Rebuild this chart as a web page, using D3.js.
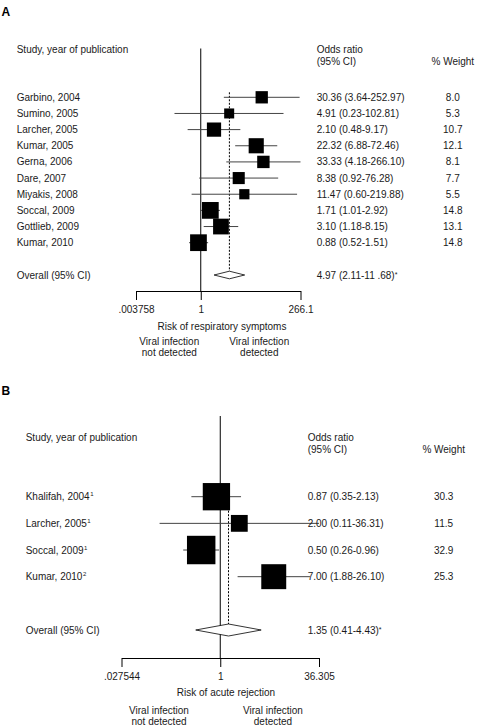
<!DOCTYPE html>
<html>
<head>
<meta charset="utf-8">
<script src="https://cdn.jsdelivr.net/npm/d3@7"></script>
<style>
  html, body { margin: 0; padding: 0; background: #fff; }
  svg { display: block; }
  text { font-family: "Liberation Sans", Arial, Helvetica, sans-serif; fill: #1a1a1a; }
</style>
</head>
<body>
<script>
// ---------------- Panel A data ----------------
const studiesA = ["Garbino, 2004", "Sumino, 2005", "Larcher, 2005", "Kumar, 2005", "Gerna, 2006",
  "Dare, 2007", "Miyakis, 2008", "Soccal, 2009", "Gottlieb, 2009", "Kumar, 2010"];
const orA = [30.36, 4.91, 2.10, 22.32, 33.33, 8.38, 11.47, 1.71, 3.10, 0.88];
const loA = [3.64, 0.23, 0.48, 6.88, 4.18, 0.92, 0.60, 1.01, 1.18, 0.52];
const hiA = [252.97, 102.81, 9.17, 72.46, 266.10, 76.28, 219.88, 2.92, 8.15, 1.51];
const weightA = [8.0, 5.3, 10.7, 12.1, 8.1, 7.7, 5.5, 14.8, 13.1, 14.8];
const ciTextA = ["30.36 (3.64-252.97)", "4.91 (0.23-102.81)", "2.10 (0.48-9.17)", "22.32 (6.88-72.46)",
  "33.33 (4.18-266.10)", "8.38 (0.92-76.28)", "11.47 (0.60-219.88)", "1.71 (1.01-2.92)",
  "3.10 (1.18-8.15)", "0.88 (0.52-1.51)"];
const overallA = [4.97, 2.11, 11.68];
const overallTextA = "4.97 (2.11-11 .68)";
const tickValsA = [0.003758, 1, 266.1];
const tickLabelsA = [".003758", "1", "266.1"];

// ---------------- Panel B data ----------------
const studiesB = ["Khalifah, 2004", "Larcher, 2005", "Soccal, 2009", "Kumar, 2010"];
const supB = ["1", "1", "1", "2"];
const orB = [0.87, 2.00, 0.50, 7.00];
const loB = [0.35, 0.11, 0.26, 1.88];
const hiB = [2.13, 36.31, 0.96, 26.10];
const weightB = [30.3, 11.5, 32.9, 25.3];
const ciTextB = ["0.87 (0.35-2.13)", "2.00 (0.11-36.31)", "0.50 (0.26-0.96)", "7.00 (1.88-26.10)"];
const overallB = [1.35, 0.41, 4.43];
const overallTextB = "1.35 (0.41-4.43)";
const tickValsB = [0.027544, 1, 36.305];
const tickLabelsB = [".027544", "1", "36.305"];

const svg = d3.select("body").append("svg").attr("width", 480).attr("height", 727);

function panel(cfg) {
  const g = svg.append("g");
  const x = d3.scaleLog().domain(cfg.xDomain).range(cfg.xRange);
  const xAxisScale = d3.scaleLog().domain(cfg.axisDomain).range(cfg.axisRange);
  const y = d3.scaleLinear().domain([0, cfg.overallIndex]).range(cfg.yRange);
  const size = d3.scaleSqrt().domain([0, 100]).range([0, cfg.boxK]);
  const n = cfg.studies.length;
  const idx = d3.range(n);

  // Panel letter
  g.append("text").attr("x", cfg.letterX).attr("y", cfg.letterY)
    .attr("font-size", 12).attr("font-weight", "bold").style("fill", "#000").text(cfg.letter);

  // Headers
  g.append("text").attr("x", cfg.labelX).attr("y", cfg.headY1).attr("dy", "0.35em")
    .attr("font-size", 10).text("Study, year of publication");
  g.append("text").attr("x", cfg.valX).attr("y", cfg.headY1).attr("dy", "0.35em")
    .attr("font-size", 10).text("Odds ratio");
  g.append("text").attr("x", cfg.valX).attr("y", cfg.headY2).attr("dy", "0.35em")
    .attr("font-size", 10).text("(95% CI)");
  g.append("text").attr("x", cfg.wX).attr("y", cfg.headY2).attr("dy", "0.35em")
    .attr("text-anchor", "middle").attr("font-size", 10).text("% Weight");

  // Reference line at 1
  g.append("line").attr("x1", x(1)).attr("x2", x(1))
    .attr("y1", cfg.refTop).attr("y2", cfg.axisY)
    .attr("stroke", "#000").attr("stroke-width", 1);

  // Dashed overall line
  g.append("line").attr("x1", x(cfg.overall[0])).attr("x2", x(cfg.overall[0]))
    .attr("y1", y(0) - cfg.dashTopOff).attr("y2", y(cfg.overallIndex) - cfg.diamondH)
    .attr("stroke", "#000").attr("stroke-width", 1).attr("stroke-dasharray", "2,1.5");

  // CI lines
  g.selectAll(".ci").data(idx).join("line")
    .attr("x1", i => x(cfg.lo[i])).attr("x2", i => x(cfg.hi[i]))
    .attr("y1", i => y(i)).attr("y2", i => y(i))
    .attr("stroke", "#444").attr("stroke-width", 1);

  // Boxes
  g.selectAll(".box").data(idx).join("rect")
    .attr("x", i => x(cfg.or[i]) - size(cfg.w[i]) / 2)
    .attr("y", i => y(i) - size(cfg.w[i]) / 2)
    .attr("width", i => size(cfg.w[i]))
    .attr("height", i => size(cfg.w[i]))
    .attr("fill", "#000");

  // Overall diamond
  const yo = y(cfg.overallIndex);
  const [oe, ol, oh] = cfg.overall;
  g.append("path")
    .attr("d", `M${x(ol)},${yo} L${x(oe)},${yo - cfg.diamondH} L${x(oh)},${yo} L${x(oe)},${yo + cfg.diamondH} Z`)
    .attr("fill", "#fff").attr("stroke", "#000").attr("stroke-width", 0.8);

  // Study labels
  const lab = g.selectAll(".lab").data(idx).join("text")
    .attr("x", cfg.labelX).attr("y", i => y(i)).attr("dy", "0.35em").attr("font-size", 10);
  lab.append("tspan").text(i => cfg.studies[i]);
  if (cfg.sup) {
    lab.append("tspan").attr("font-size", 6).attr("dy", -4).attr("dx", 0.5).text(i => cfg.sup[i]);
  }
  g.append("text").attr("x", cfg.labelX).attr("y", yo).attr("dy", "0.35em")
    .attr("font-size", 10).text("Overall (95% CI)");

  // Values
  g.selectAll(".val").data(idx).join("text")
    .attr("x", cfg.valX).attr("y", i => y(i)).attr("dy", "0.35em").attr("font-size", 10)
    .text(i => cfg.ciText[i]);
  const ov = g.append("text").attr("x", cfg.valX).attr("y", yo).attr("dy", "0.35em").attr("font-size", 10);
  ov.append("tspan").text(cfg.overallText);
  ov.append("tspan").attr("font-size", 7).attr("dy", -2).text("*");

  g.selectAll(".wt").data(idx).join("text")
    .attr("x", cfg.wX).attr("y", i => y(i)).attr("dy", "0.35em").attr("text-anchor", "middle")
    .attr("font-size", 10).text(i => cfg.w[i].toFixed(1));

  // Axis
  const axis = d3.axisBottom(xAxisScale).tickValues(cfg.tickVals)
    .tickFormat((d, i) => cfg.tickLabels[i]).tickSize(9).tickSizeOuter(0).tickPadding(6);
  const ag = g.append("g").attr("transform", `translate(0,${cfg.axisY})`).call(axis);
  ag.attr("font-family", null).attr("font-size", null);
  ag.selectAll("text").attr("font-size", 10).style("fill", "#1a1a1a");
  ag.selectAll("path, line").attr("stroke", "#000");

  // Axis title and directions
  g.append("text").attr("x", cfg.titleX).attr("y", cfg.titleY).attr("dy", "0.35em")
    .attr("text-anchor", "middle").attr("font-size", 10).text(cfg.title);
  const dirs = [[cfg.leftX, "Viral infection", "not detected"], [cfg.rightX, "Viral infection", "detected"]];
  dirs.forEach(([cx, l1, l2]) => {
    g.append("text").attr("x", cx).attr("y", cfg.dirY1).attr("dy", "0.35em")
      .attr("text-anchor", "middle").attr("font-size", 10).text(l1);
    g.append("text").attr("x", cx).attr("y", cfg.dirY2).attr("dy", "0.35em")
      .attr("text-anchor", "middle").attr("font-size", 10).text(l2);
  });
}

panel({
  letter: "A", letterX: 1.5, letterY: 16,
  studies: studiesA, or: orA, lo: loA, hi: hiA, w: weightA, ciText: ciTextA,
  overall: overallA, overallText: overallTextA,
  tickVals: tickValsA, tickLabels: tickLabelsA,
  xDomain: [1 / 266.1, 266.1], xRange: [101, 300.5],
  axisDomain: tickValsA, axisRange: [136, 200.75, 300.5],
  yRange: [97.3, 275], overallIndex: 11, boxK: 43.5,
  diamondH: 3.8, dashTopOff: 5, refTop: 48.5, axisY: 291,
  labelX: 16.7, valX: 316.7, wX: 452.8, headY1: 49, headY2: 61,
  title: "Risk of respiratory symptoms", titleX: 222, titleY: 326,
  leftX: 169.3, rightX: 259.3, dirY1: 341.7, dirY2: 352.7
});

panel({
  letter: "B", letterX: 1.5, letterY: 394.7,
  studies: studiesB, sup: supB, or: orB, lo: loB, hi: hiB, w: weightB, ciText: ciTextB,
  overall: overallB, overallText: overallTextB,
  tickVals: tickValsB, tickLabels: tickLabelsB,
  xDomain: [0.027544, 36.305], xRange: [121.5, 319],
  axisDomain: tickValsB, axisRange: [121.5, 220.25, 319],
  yRange: [496.7, 630], overallIndex: 5, boxK: 49.6,
  diamondH: 6, dashTopOff: 0, refTop: 416, axisY: 658,
  labelX: 25.7, valX: 307.7, wX: 443.7, headY1: 437.7, headY2: 449.3,
  title: "Risk of acute rejection", titleX: 226, titleY: 692.7,
  leftX: 159, rightX: 273, dirY1: 710, dirY2: 721.7
});
</script>
</body>
</html>
